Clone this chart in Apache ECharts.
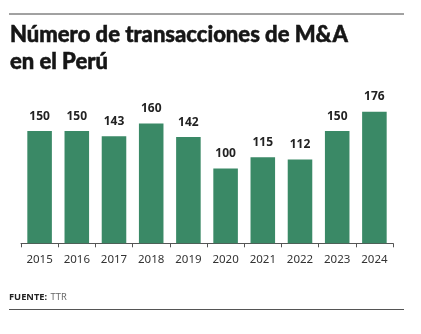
<!DOCTYPE html>
<html>
<head>
<meta charset="utf-8">
<style>html,body{margin:0;padding:0;background:#fff;}#c{width:421px;height:334px;}</style>
<script src="https://cdn.jsdelivr.net/npm/echarts@6/dist/echarts.min.js"></script>
</head>
<body>
<div id="c"></div>
<script>
var categories = ['2015','2016','2017','2018','2019','2020','2021','2022','2023','2024'];
var values = [150,150,143,160,142,100,115,112,150,176];
var titleText = 'Número de transacciones de M&A\nen el Perú';
var sourceLabel = 'FUENTE:';
var sourceText = 'TTR';

var chart = echarts.init(document.getElementById('c'), null, {renderer:'canvas'});
chart.setOption({
  animation: false,
  backgroundColor: '#fff',
  title: {
    text: titleText,
    left: 10, top: 21.5, padding: 0,
    textStyle: {fontFamily: 'Lato', fontWeight: 900, fontSize: 22, color: '#161616', lineHeight: 26.8,
      textBorderColor: '#161616', textBorderWidth: 0.5}
  },
  grid: {left: 21, right: 28, top: 93.7, bottom: 90.7, containLabel: false},
  xAxis: {
    type: 'category', data: categories,
    axisLine: {lineStyle: {color: '#555', width: 1}},
    axisTick: {show: true, length: 4, lineStyle: {color: '#555'}},
    axisLabel: {color: '#333', fontSize: 11.5, fontFamily: 'Noto Sans', margin: 10}
  },
  yAxis: {type: 'value', min: 0, max: 200, show: false, splitLine: {show: false}},
  series: [{
    type: 'bar', data: values, barCategoryGap: '34%',
    itemStyle: {color: '#3a8966'},
    label: {show: true, position: 'top', distance: 9, color: '#222', fontWeight: 'bold', fontSize: 12, fontFamily: 'Noto Sans'}
  }],
  graphic: [
    {type: 'line', shape: {x1: 9, y1: 14, x2: 404, y2: 14}, style: {stroke: '#444', lineWidth: 1}},
    {type: 'line', shape: {x1: 9, y1: 309.5, x2: 404, y2: 309.5}, style: {stroke: '#555', lineWidth: 1}},
    {type: 'text', left: 9, top: 291, style: {
      text: '{b|' + sourceLabel + '} {n|' + sourceText + '}',
      rich: {
        b: {fontFamily: 'Noto Sans', fontWeight: 'bold', fontSize: 9.3, fill: '#222'},
        n: {fontFamily: 'Noto Sans', fontSize: 9.3, fill: '#666'}
      }
    }}
  ]
});
</script>
</body>
</html>
